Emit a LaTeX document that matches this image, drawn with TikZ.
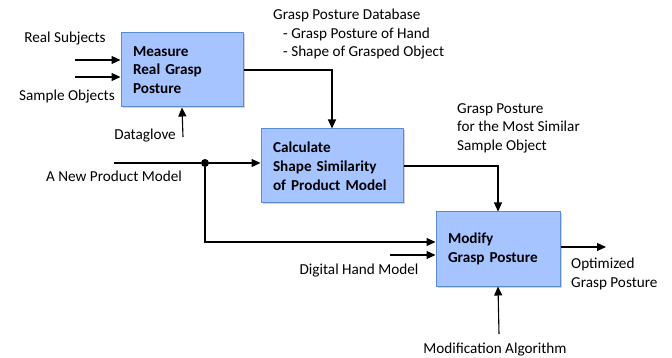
\documentclass[tikz,border=0pt]{standalone}
\usepackage{fontspec}
\setmainfont{Carlito}
\usetikzlibrary{arrows.meta,shadows}
\definecolor{boxfill}{RGB}{166,196,255}
\definecolor{boxline}{RGB}{90,140,210}
\begin{document}
\begin{tikzpicture}[x=1pt,y=-1pt,
        box/.style = {rectangle, draw=boxline, fill=boxfill,
            line width=1pt, minimum height=74pt, inner xsep=12pt,
            align=left, font=\fontsize{15.2}{18.8}\selectfont\bfseries,
            drop shadow={shadow xshift=1.5pt, shadow yshift=-1.5pt, opacity=0.35}},
        flow/.style = {-{Triangle[length=9pt,width=8pt]}, line width=1.1pt},
        lbl/.style = {inner sep=0pt, align=left,
            font=\fontsize{15.2}{18.5}\selectfont}]

    \useasboundingbox (0,0) rectangle (672,358);

    % Boxes
    \node[box, text width=98pt] (measure) at (182,70)
        {Measure\\Real Grasp\\Posture};
    \node[box, text width=118pt] (calc) at (332,166)
        {Calculate\\Shape Similarity\\of Product Model};
    \node[box, text width=100pt] (modify) at (498,249)
        {Modify\\Grasp Posture};

    % Free ends
    \coordinate (subj) at (75,60);
    \coordinate (obj) at (75,77);
    \coordinate (glove) at (183,137);
    \coordinate (prod) at (114,163);
    \coordinate (hand) at (390,255);
    \coordinate (out) at (606,247);
    \coordinate (algo) at (499,334);
    \node[circle, fill, inner sep=0pt, minimum size=8pt] (junc) at (205,163) {};

    % Labels
    \node[lbl] (lsubj) at (65,39) {Real Subjects};
    \node[lbl] (lobj) at (67,97) {Sample Objects};
    \node[lbl, anchor=east] (lglove) at (176,136) {Dataglove};
    \node[lbl, anchor=north west] (ldb) at (273,9)
        {Grasp Posture Database\\\hspace{10pt}- Grasp Posture of Hand\\\hspace{10pt}- Shape of Grasped Object};
    \node[lbl] (lprod) at (114,176) {A New Product Model};
    \node[lbl, anchor=north west] (lsim) at (457,103)
        {Grasp Posture\\for the Most Similar\\Sample Object};
    \node[lbl] (lhand) at (359,271) {Digital Hand Model};
    \node[lbl, anchor=north west] (lout) at (571,258)
        {Optimized\\Grasp Posture};
    \node[lbl] (lalgo) at (495,350) {Modification Algorithm};

    % Connectors
    \draw[flow] (subj) -- ([yshift=10pt]measure.west);
    \draw[flow] (obj) -- ([yshift=-7pt]measure.west);
    \draw[flow] (glove) -- (measure.south);
    \draw[flow] (measure.east) -| (calc.north);
    \draw[line width=1.1pt] (prod) -- (junc);
    \draw[flow] (junc) -- (junc -| calc.west);
    \draw[flow] (junc) |- ([yshift=7pt]modify.west);
    \draw[flow] (hand) -- ([yshift=-6pt]modify.west);
    \draw[flow] (calc.east) -| (modify.north);
    \draw[flow] ([yshift=2pt]modify.east) -- (out);
    \draw[flow] (algo) -- (modify.south);

\end{tikzpicture}
\end{document}
